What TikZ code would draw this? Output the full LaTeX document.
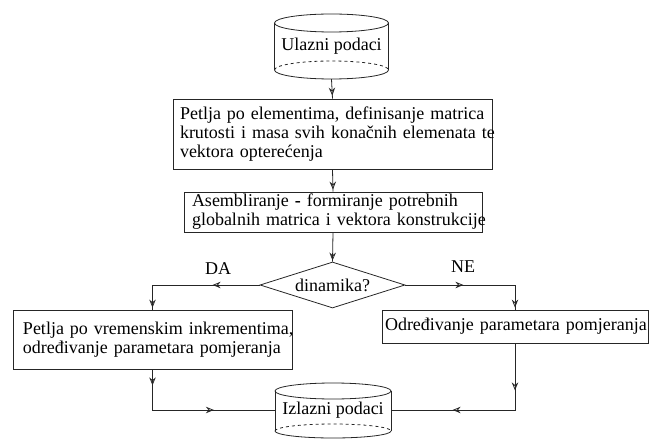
\documentclass[tikz,border=0pt]{standalone}
\usepackage{fontspec}
\setmainfont{Liberation Serif}
\newfontfamily\tnr{Liberation Serif}
\usetikzlibrary{arrows.meta,shapes.geometric,decorations.markings}
\begin{document}
\begin{tikzpicture}[x=1bp,y=-1bp,
  every node/.style={font=\tnr\fontsize{18bp}{19bp}\selectfont},
  ln/.style={line width=0.8bp,draw=black!85},
  oarr/.tip={Stealth[open,length=8bp,width=6.5bp]},
  arrat/.style={postaction={decorate,decoration={markings,mark=at position #1 with {\arrow[line width=0.8bp]{oarr}}}}},
  box/.style={ln,draw,rectangle,align=left,inner ysep=0pt},
  lbl/.style={inner sep=0pt}
]
\useasboundingbox (0,0) rectangle (649,439);

% input cylinder
\node[lbl,minimum width=114bp,minimum height=65bp] (in) at (331.5,46.5) {Ulazni podaci};
\draw[ln] (331.5,23) ellipse [x radius=57, y radius=9];
\draw[ln] (274.5,23) -- (274.5,70) (388.5,23) -- (388.5,70);
\draw[ln] (274.5,70) arc[start angle=180,end angle=360,x radius=57,y radius=-9];
\draw[ln,dashed] (274.5,70) arc[start angle=180,end angle=0,x radius=57,y radius=-9];

\node[box,text width=305bp,inner xsep=7bp,minimum height=70bp] (b1) at (332.5,134)
 {\mbox{Petlja po elementima, definisanje matrica}\\\mbox{krutosti i masa svih konačnih elemenata te}\\vektora opterećenja\par\vspace{-6bp}};
\node[box,text width=282bp,inner xsep=8bp,minimum height=40bp] (b2) at (333,212)
 {\mbox{Asembliranje \textbf{-} formiranje potrebnih}\\\mbox{globalnih matrica i vektora konstrukcije}};
\node[ln,draw,diamond,aspect=3.15,minimum width=145bp,minimum height=46bp,inner sep=0pt] (dia) at (332.5,285) {dinamika?};
\node[box,text width=259bp,inner xsep=10bp,minimum height=59bp] (lb) at (152.5,339.5)
 {\mbox{Petlja po vremenskim inkrementima,}\\\mbox{određivanje parametara pomjeranja}};
\node[box,text width=260bp,inner xsep=3bp,minimum height=33bp] (rb) at (515,326.5)
 {\mbox{Određivanje parametara pomjeranja}};

% output cylinder
\node[lbl,minimum width=116bp,minimum height=20bp] (out) at (333,410) {Izlazni podaci};
\draw[ln] (333,391) ellipse [x radius=58, y radius=8];
\draw[ln] (275,391) -- (275,431) (391,391) -- (391,431);
\draw[ln] (275,431) arc[start angle=180,end angle=360,x radius=58,y radius=-7];
\draw[ln,dashed] (275,431) arc[start angle=180,end angle=0,x radius=58,y radius=-7];

\node[lbl] (da) at (218,269) {DA};
\node[lbl] (ne) at (463,267) {NE};

% connectors
\draw[ln,arrat=-3bp] (in.south) -- (b1.north);
\draw[ln,arrat=-2bp] (b1.south) -- (b2.north);
\draw[ln,arrat=-1bp] (b2.south) -- (dia.north);
\draw[ln,arrat=47bp,arrat=-2bp] (dia.west) -| (lb.north);
\draw[ln,arrat=58bp,arrat=-2bp] (dia.east) -| (rb.north);
\draw[ln,arrat=16bp,arrat=102bp] (lb.south) |- (out.west);
\draw[ln,arrat=47bp,arrat=129bp] (rb.south) |- (out.east);
\end{tikzpicture}
\end{document}
